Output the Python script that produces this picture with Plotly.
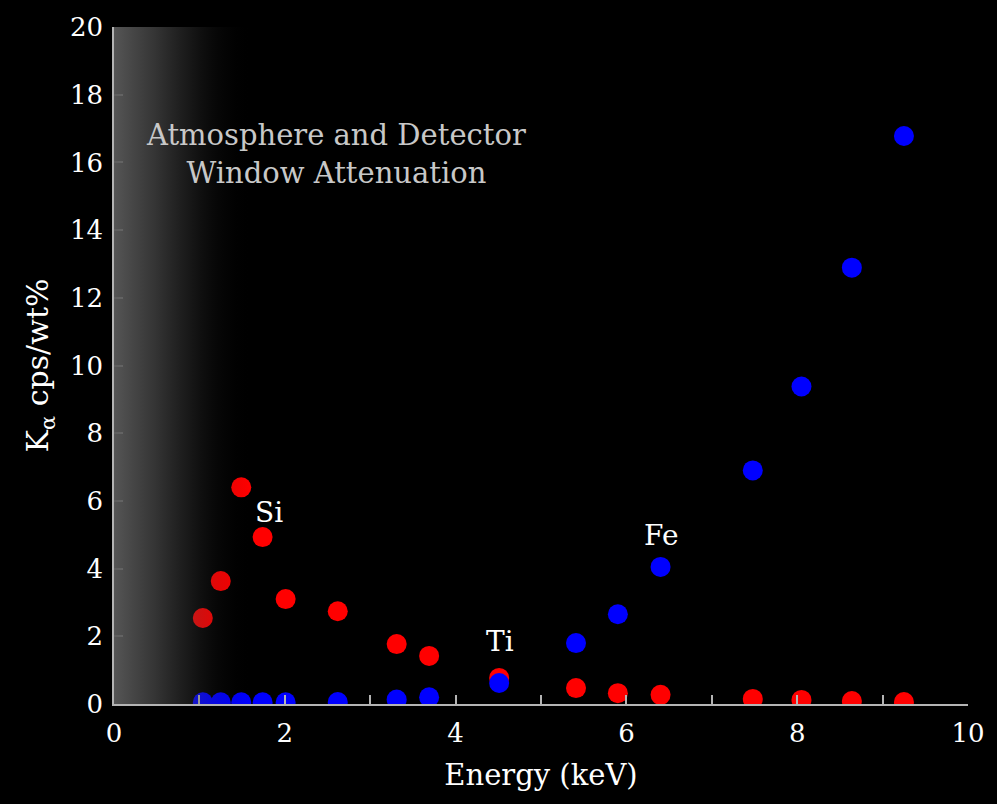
import base64
import plotly.graph_objects as go

# --- data ---
energy_keV = [1.04, 1.25, 1.49, 1.74, 2.01, 2.62, 3.31, 3.69, 4.51, 5.41, 5.90, 6.40, 7.48, 8.05, 8.64, 9.25]
red_cps = [2.54, 3.63, 6.40, 4.93, 3.10, 2.74, 1.77, 1.42, 0.77, 0.47, 0.32, 0.27, 0.15, 0.12, 0.09, 0.06]
blue_cps = [0.05, 0.05, 0.05, 0.05, 0.05, 0.06, 0.13, 0.20, 0.62, 1.80, 2.65, 4.05, 6.90, 9.38, 12.89, 16.78]

element_labels = ["Si", "Ti", "Fe"]
element_label_x = [1.82, 4.52, 6.41]
element_label_y = [5.66, 1.86, 4.98]

attenuation_band = [0.0, 1.6]
x_tick_vals = [0, 2, 4, 6, 8, 10]
y_tick_vals = [0, 2, 4, 6, 8, 10, 12, 14, 16, 18, 20]

FONT = "Georgia, 'DejaVu Serif', serif"
AXIS_COL = "#b4b4b4"

fig = go.Figure()
fig.add_trace(go.Scatter(x=energy_keV, y=red_cps, mode="markers",
                         marker=dict(color="#ff0000", size=20, line=dict(width=0)),
                         hoverinfo="x+y"))
fig.add_trace(go.Scatter(x=energy_keV, y=blue_cps, mode="markers",
                         marker=dict(color="#0000ff", size=20, line=dict(width=0)),
                         hoverinfo="x+y"))

# smooth gradient overlay (gray fading to transparent) via an inline SVG image
stops = [(0.0, 90, 0.95), (0.3, 85, 0.62), (0.55, 75, 0.32), (0.75, 50, 0.14),
         (0.9, 25, 0.05), (1.0, 0, 0.0)]
stop_xml = "".join(f'<stop offset="{o}" stop-color="rgb({c},{c},{c})" stop-opacity="{a}"/>'
                   for o, c, a in stops)
svg = ('<svg xmlns="http://www.w3.org/2000/svg" width="200" height="100" preserveAspectRatio="none">'
       '<defs><linearGradient id="g" x1="0" y1="0" x2="1" y2="0">' + stop_xml +
       '</linearGradient></defs>'
       '<rect x="0" y="0" width="200" height="100" fill="url(#g)"/></svg>')
src = "data:image/svg+xml;base64," + base64.b64encode(svg.encode()).decode()
fig.add_layout_image(dict(source=src, xref="x", yref="y",
                          x=attenuation_band[0], y=20.1,
                          sizex=attenuation_band[1] - attenuation_band[0], sizey=20.1,
                          sizing="stretch", xanchor="left", yanchor="top", layer="above"))

annotations = [dict(x=2.6, y=16.25, xref="x", yref="y",
                    text="Atmosphere and Detector<br>Window Attenuation",
                    showarrow=False, font=dict(family=FONT, size=29, color="#c8c8c8"),
                    align="center")]
for t, lx, ly in zip(element_labels, element_label_x, element_label_y):
    annotations.append(dict(x=lx, y=ly, xref="x", yref="y", text=t, showarrow=False,
                            font=dict(family=FONT, size=28, color="white")))

fig.update_layout(
    width=997, height=804,
    paper_bgcolor="black", plot_bgcolor="black",
    margin=dict(l=114, r=22, t=26, b=100),
    showlegend=False,
    annotations=annotations,
    font=dict(family=FONT, color="white", size=26),
    xaxis=dict(range=[0, 10], tickvals=x_tick_vals, showgrid=False, zeroline=False,
               showline=True, linecolor=AXIS_COL, linewidth=1.5,
               ticks="inside", ticklen=9, tickcolor=AXIS_COL, tickwidth=1.5,
               minor=dict(dtick=1, ticks="inside", ticklen=9, tickcolor=AXIS_COL, tickwidth=1.5),
               ticklabelstandoff=5,
               tickfont=dict(family=FONT, size=26, color="white"),
               title=dict(text="Energy (keV)", font=dict(family=FONT, size=29, color="white"), standoff=18)),
    yaxis=dict(range=[0, 20], tickvals=y_tick_vals, showgrid=False, zeroline=False,
               showline=True, linecolor=AXIS_COL, linewidth=1.5,
               ticks="inside", ticklen=9, tickcolor=AXIS_COL, tickwidth=1.5,
               ticklabelstandoff=4,
               tickfont=dict(family=FONT, size=26, color="white"),
               title=dict(text="K<sub>α</sub> cps/wt%", font=dict(family=FONT, size=30, color="white"), standoff=12)),
)

fig.write_html("out.html")
